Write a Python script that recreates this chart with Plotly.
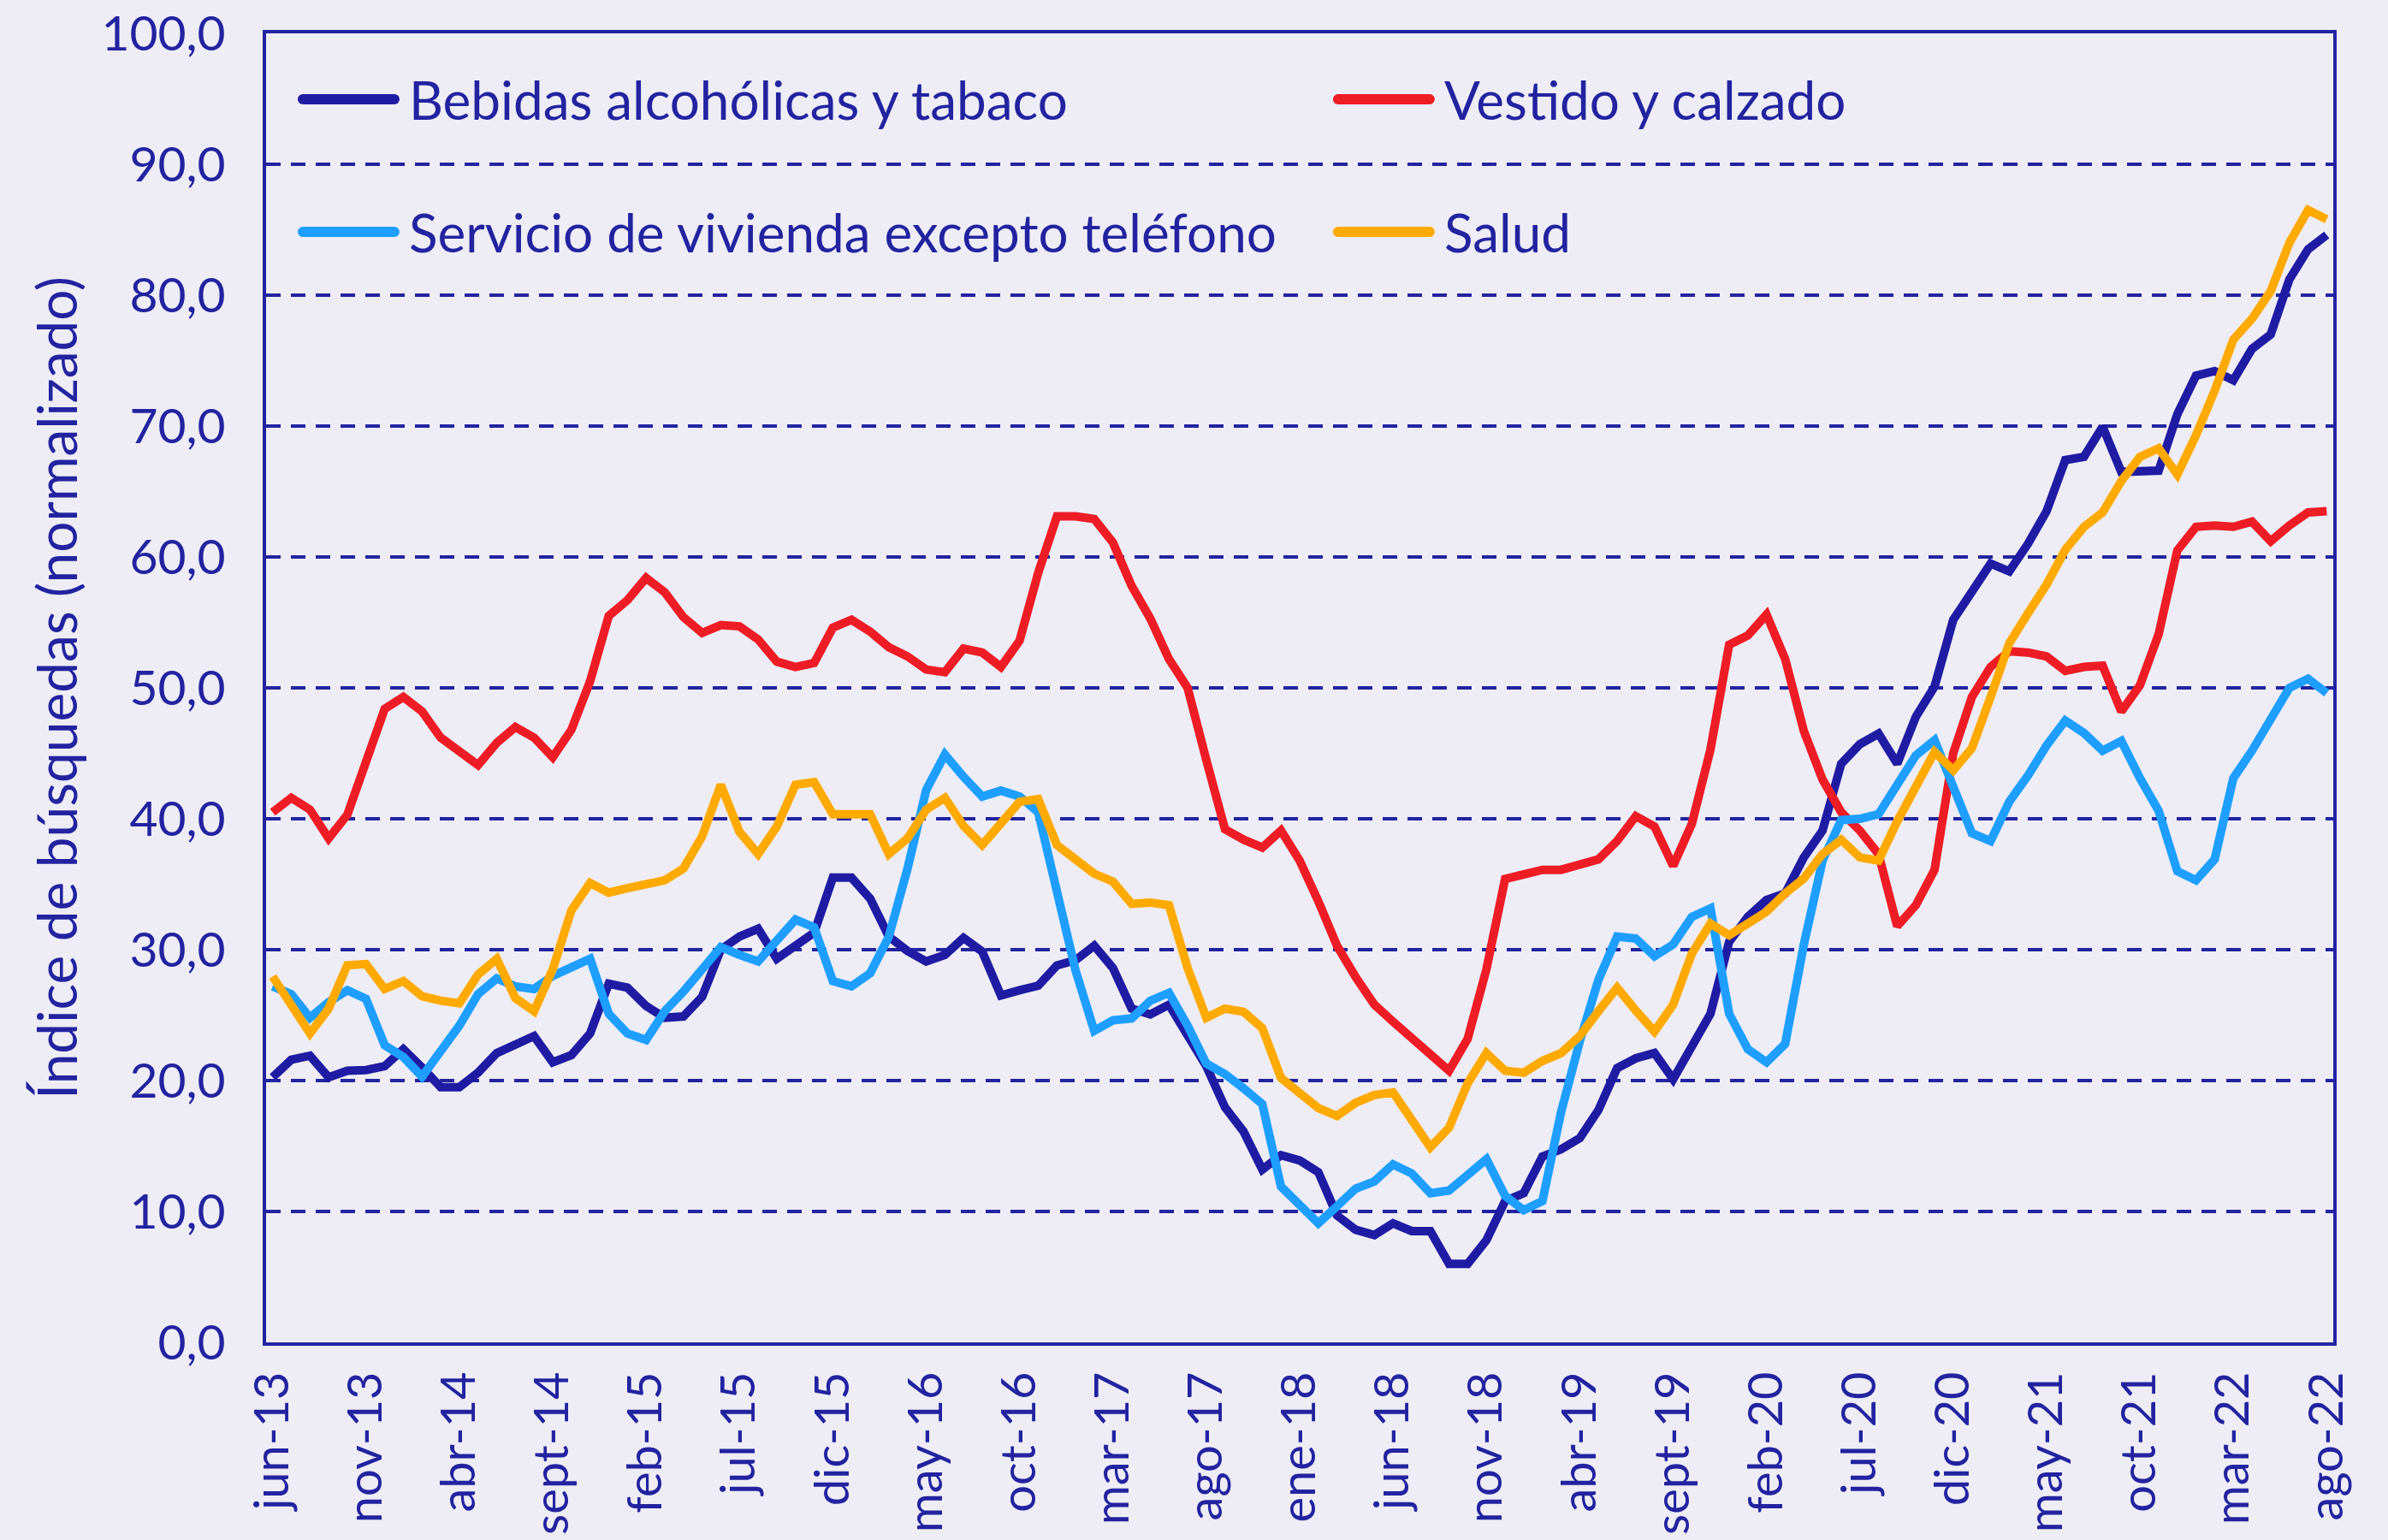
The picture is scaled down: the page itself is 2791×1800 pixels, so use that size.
import plotly.graph_objects as go

# ---- categories (monthly, jun-13 .. ago-22) ----
meses = ["ene", "feb", "mar", "abr", "may", "jun", "jul", "ago", "sept", "oct", "nov", "dic"]
n_points = 111
categorias = [f"{meses[(5 + k) % 12]}-{((2013 * 12 + 5 + k) // 12) % 100:02d}" for k in range(n_points)]
tick_labels = categorias[::5]

# ---- series values ----
bebidas = [20.25, 21.6, 21.9, 20.25, 20.75, 20.8, 21.1, 22.4, 21.0, 19.5, 19.5, 20.6, 22.1, 22.7, 23.4,
           21.4, 21.95, 23.6, 27.4, 27.1, 25.7, 24.8, 24.9, 26.4, 30.0, 31.0, 31.6, 29.3, 30.4, 31.3,
           35.5, 35.5, 33.9, 31.0, 29.9, 29.1, 29.6, 30.9, 29.85, 26.5, 26.9, 27.25, 28.8, 29.2, 30.3,
           28.6, 25.5, 25.05, 25.8, 23.4, 21.1, 17.96, 16.1, 13.2, 14.3, 13.9, 13.0, 9.7, 8.6, 8.2,
           9.1, 8.5, 8.5, 6.0, 6.0, 7.8, 10.8, 11.4, 14.2, 14.75, 15.6, 17.75, 20.95, 21.7, 22.1,
           20.1, 22.6, 25.1, 30.6, 32.5, 33.8, 34.3, 37.05, 39.1, 44.2, 45.7, 46.5, 44.2, 47.8, 50.1,
           55.2, 57.3, 59.5, 58.9, 61.0, 63.5, 67.4, 67.65, 69.95, 66.5, 66.6, 66.6, 70.9, 73.85, 74.2,
           73.5, 75.9, 77.0, 81.2, 83.5, 84.6]

vestido = [40.5, 41.6, 40.7, 38.5, 40.3, 44.4, 48.4, 49.3, 48.2, 46.2, 45.1, 44.1, 45.8, 47.0, 46.2,
           44.7, 46.8, 50.5, 55.5, 56.7, 58.4, 57.3, 55.4, 54.2, 54.8, 54.7, 53.7, 52.0, 51.6, 51.9,
           54.6, 55.2, 54.3, 53.1, 52.4, 51.4, 51.2, 53.0, 52.7, 51.6, 53.6, 58.8, 63.1, 63.1, 62.9,
           61.1, 57.8, 55.3, 52.2, 50.0, 44.5, 39.2, 38.4, 37.8, 39.1, 36.8, 33.7, 30.3, 27.9, 25.8,
           24.5, 23.2, 22.1, 20.75, 23.2, 28.5, 35.4, 35.8, 36.1, 36.1, 36.5, 36.9, 38.3, 40.2, 39.4,
           36.4, 39.6, 45.3, 53.3, 54.0, 55.6, 52.2, 46.7, 43.0, 40.5, 39.1, 37.3, 31.8, 33.4, 36.1,
           45.0, 49.3, 51.6, 52.8, 52.7, 52.4, 51.3, 51.6, 51.7, 48.2, 50.2, 54.1, 60.5, 62.3, 62.4,
           62.3, 62.7, 61.2, 62.4, 63.4, 63.5]

vivienda = [27.2, 26.6, 24.8, 26.0, 26.9, 26.25, 22.7, 21.8, 20.3, 22.3, 24.2, 26.6, 27.8, 27.2, 27.0,
            28.0, 28.7, 29.3, 25.1, 23.6, 23.1, 25.3, 26.8, 28.5, 30.2, 29.6, 29.1, 30.7, 32.3, 31.7,
            27.6, 27.2, 28.2, 31.0, 36.2, 42.2, 44.9, 43.2, 41.7, 42.15, 41.7, 40.5, 34.4, 28.4, 23.8,
            24.6, 24.75, 26.1, 26.7, 24.2, 21.3, 20.5, 19.4, 18.2, 11.9, 10.4, 9.1, 10.4, 11.75, 12.3,
            13.6, 12.9, 11.4, 11.6, 12.9, 14.0, 11.2, 10.1, 10.8, 17.6, 23.0, 27.7, 31.0, 30.85, 29.5,
            30.4, 32.5, 33.15, 25.1, 22.4, 21.4, 22.8, 30.4, 36.8, 39.9, 40.0, 40.35, 42.55, 44.85, 46.0,
            42.3, 38.9, 38.3, 41.3, 43.3, 45.6, 47.5, 46.55, 45.2, 45.95, 43.1, 40.6, 36.0, 35.3, 36.9,
            43.1, 45.2, 47.5, 50.0, 50.7, 49.6]

salud = [27.95, 25.9, 23.6, 25.5, 28.8, 28.9, 27.0, 27.6, 26.45, 26.1, 25.9, 28.1, 29.3, 26.3, 25.3,
         28.5, 33.0, 35.1, 34.35, 34.7, 35.0, 35.3, 36.2, 38.65, 42.6, 39.0, 37.3, 39.4, 42.6, 42.8,
         40.35, 40.35, 40.35, 37.3, 38.5, 40.7, 41.6, 39.45, 38.0, 39.65, 41.3, 41.5, 38.0, 36.9, 35.8,
         35.2, 33.5, 33.6, 33.4, 28.6, 24.8, 25.5, 25.25, 24.0, 20.2, 19.05, 17.9, 17.3, 18.3, 18.9,
         19.1, 17.0, 14.9, 16.4, 19.8, 22.1, 20.75, 20.6, 21.5, 22.1, 23.4, 25.3, 27.1, 25.35, 23.75,
         25.8, 29.7, 32.0, 31.1, 32.0, 32.9, 34.3, 35.45, 37.3, 38.4, 37.05, 36.8, 39.8, 42.55, 45.1,
         43.7, 45.4, 49.3, 53.4, 55.7, 57.9, 60.55, 62.3, 63.4, 65.8, 67.65, 68.3, 66.3, 69.3, 72.7,
         76.6, 78.2, 80.3, 84.0, 86.5, 85.8]

series_names = ["Bebidas alcohólicas y tabaco", "Vestido y calzado",
                "Servicio de vivienda excepto teléfono", "Salud"]
series_values = [bebidas, vestido, vivienda, salud]
series_colors = ["#201BA3", "#EE1D25", "#1E9FFF", "#FFAA00"]

TEXT = "#2323A0"
BG = "#EEEDF6"
FONT = "Lato"

fig = go.Figure()
for name, vals, col in zip(series_names, series_values, series_colors):
    fig.add_trace(go.Scatter(x=categorias, y=vals, mode="lines", name=name,
                             line=dict(color=col, width=10), showlegend=False))

# manual legend (two columns, two rows) in paper coordinates, line length in pixels
leg_pos = [(0.0153, 0.9497), (0.5161, 0.9497), (0.0153, 0.8484), (0.5161, 0.8484)]
for (lx, ly), name, col in zip(leg_pos, series_names, series_colors):
    fig.add_shape(type="line", xref="paper", yref="paper", xsizemode="pixel", xanchor=lx,
                  x0=6, x1=113, y0=ly, y1=ly, line=dict(color=col, width=12))
    for cx in (6, 113):
        fig.add_shape(type="circle", xref="paper", yref="paper", xsizemode="pixel", ysizemode="pixel",
                      xanchor=lx, yanchor=ly, x0=cx - 6, x1=cx + 6, y0=-6, y1=6,
                      fillcolor=col, line=dict(width=0))
    fig.add_annotation(xref="paper", yref="paper", x=lx + 0.0530, y=ly, text=name, showarrow=False,
                       xanchor="left", yanchor="middle", font=dict(family=FONT, size=62, color=TEXT))

fig.update_layout(
    width=2791, height=1800,
    margin=dict(l=311, r=64, t=39, b=231),
    paper_bgcolor=BG, plot_bgcolor=BG,
    separators=",.",
    font=dict(family=FONT, size=58, color=TEXT),
)
fig.update_xaxes(
    type="category", range=[-0.35, n_points - 1 + 0.35],
    tickmode="array", tickvals=tick_labels, ticktext=tick_labels,
    tickangle=-90, tickfont=dict(family=FONT, size=56, color=TEXT),
    showgrid=False, showline=True, linecolor=TEXT, linewidth=4, mirror=True,
    ticks="", ticklabelstandoff=8, zeroline=False, automargin=False, ticklabeloverflow="allow",
)
fig.update_yaxes(
    range=[0, 100], dtick=10, tickformat=".1f",
    tickfont=dict(family=FONT, size=57, color=TEXT),
    showgrid=True, gridcolor=TEXT, gridwidth=4, griddash="17px,12px",
    showline=True, linecolor=TEXT, linewidth=4, mirror=True,
    ticks="", ticklabelstandoff=32, zeroline=False, automargin=False, ticklabeloverflow="allow",
    title=dict(text="Índice de búsquedas (normalizado)", font=dict(family=FONT, size=64, color=TEXT),
               standoff=8),
)

# remove the default 8px page margin so the figure fills the window exactly
fig.write_html("out.html", config={"displayModeBar": False},
               post_script="document.body.style.margin='0';document.body.style.background='%s';" % BG)
